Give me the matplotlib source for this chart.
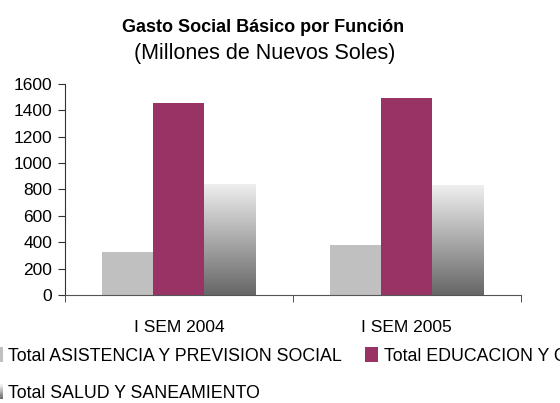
import numpy as np
import matplotlib
matplotlib.use('Agg')
from matplotlib import pyplot as plt
from matplotlib.patches import Rectangle
from matplotlib.legend_handler import HandlerBase

plt.rcParams['font.family'] = ['Liberation Sans', 'DejaVu Sans']

periodos = ['I SEM 2004', 'I SEM 2005']
asistencia = [326, 379]
educacion = [1456, 1494]
salud = [842, 834]
yticks = [0, 200, 400, 600, 800, 1000, 1200, 1400, 1600]

gris = '#c0c0c0'
granate = '#993366'


class HandlerGradiente(HandlerBase):
    # dibuja el cuadrito de leyenda con degradado (oscuro abajo, claro arriba)
    def create_artists(self, legend, orig_handle, xdescent, ydescent,
                       width, height, fontsize, trans):
        n = 12
        arts = []
        for i in range(n):
            c = plt.cm.gray(0.42 + 0.52 * i / (n - 1))
            r = Rectangle((-xdescent, -ydescent + height * i / n), width,
                          height / n + 0.3, facecolor=c, edgecolor='none',
                          transform=trans)
            arts.append(r)
        return arts


fig = plt.figure(figsize=(5.6, 4.03), dpi=100)
ax = fig.add_axes([0.116, 0.268, 0.814, 0.5236])

x = np.arange(len(periodos))
w = 0.224
b1 = ax.bar(x - w, asistencia, w, color=gris, label='Total ASISTENCIA Y PREVISION SOCIAL')
b2 = ax.bar(x, educacion, w, color=granate, label='Total EDUCACION Y CULTURA')
b3 = ax.bar(x + w, salud, w, color='none', label='Total SALUD Y SANEAMIENTO')

grad = np.linspace(0, 1, 256).reshape(-1, 1)
for r in b3:
    x0, y0 = r.get_x(), r.get_y()
    im = ax.imshow(grad, cmap='gray', vmin=-0.75, vmax=1.12, aspect='auto',
                   extent=[x0, x0 + r.get_width(), y0, y0 + r.get_height()],
                   origin='lower', zorder=2)
    im.set_clip_path(r)

ax.set_xlim(-0.5, 1.5)
ax.set_ylim(0, 1600)
ax.set_yticks(yticks)
ax.set_yticklabels([str(v) for v in yticks], fontsize=12.5)
ax.set_xticks(x)
ax.set_xticklabels(periodos, fontsize=12.5)
ax.set_xticks([-0.5, 0.5, 1.5], minor=True)
ax.tick_params(axis='x', which='major', length=0, pad=18)
ax.tick_params(axis='x', which='minor', length=5, color='#333333')
ax.tick_params(axis='y', length=5, color='#333333', pad=4)
for s in ['top', 'right']:
    ax.spines[s].set_visible(False)
ax.spines['left'].set_color('#333333')
ax.spines['bottom'].set_color('#555555')

fig.text(0.47, 0.933, 'Gasto Social Básico por Función', ha='center', va='center',
         fontsize=13, fontweight='bold')
fig.text(0.473, 0.868, '(Millones de Nuevos Soles)', ha='center', va='center',
         fontsize=15.5)

handles = [b1, b3, b2]
labels = [h.get_label() for h in handles]
fig.legend(handles, labels, loc='upper left', bbox_to_anchor=(-0.0176, 0.138),
           ncol=2, frameon=False, fontsize=12.8, handlelength=0.73, handleheight=0.85,
           handletextpad=0.3, columnspacing=1.3, labelspacing=1.13, borderpad=0,
           borderaxespad=0, handler_map={b3: HandlerGradiente()})

fig.savefig('out.png', dpi=100)
